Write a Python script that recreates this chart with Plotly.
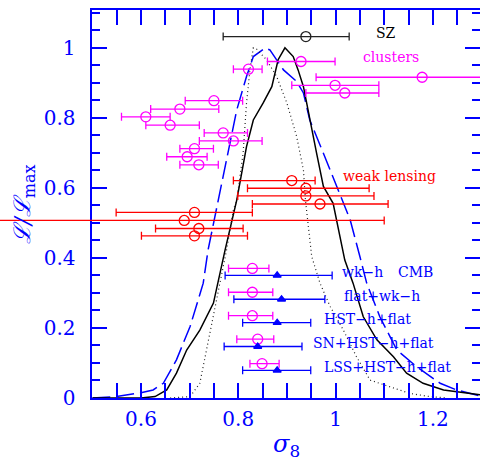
import plotly.graph_objects as go

# ---------------- curves ----------------
dash_x = [0.50, 0.550, 0.600, 0.625, 0.646, 0.673, 0.701, 0.728, 0.738, 0.759, 0.776, 0.797, 0.817,
          0.831, 0.855, 0.865, 0.893, 0.920, 0.934, 0.947, 0.975, 1.002, 1.030, 1.050, 1.064,
          1.091, 1.126, 1.167, 1.215, 1.249, 1.297]
dash_y = [0.0, 0.004, 0.015, 0.023, 0.042, 0.109, 0.204, 0.328, 0.423, 0.566, 0.680, 0.823, 0.918,
          0.975, 0.999, 0.994, 0.937, 0.904, 0.871, 0.794, 0.699, 0.604, 0.509, 0.404, 0.328,
          0.232, 0.137, 0.089, 0.042, 0.023, 0.006]

solid_x = [0.50, 0.600, 0.629, 0.653, 0.673, 0.694, 0.721, 0.749, 0.773, 0.790, 0.797, 0.817, 0.831,
           0.851, 0.869, 0.882, 0.896, 0.913, 0.923, 0.934, 0.947, 0.961, 0.975, 0.995, 1.019,
           1.036, 1.057, 1.085, 1.119, 1.146, 1.180, 1.222, 1.297]
solid_y = [0.0, 0.0, 0.004, 0.023, 0.071, 0.137, 0.194, 0.271, 0.423, 0.528, 0.566, 0.718, 0.794,
           0.842, 0.889, 0.966, 1.0, 0.975, 0.937, 0.889, 0.794, 0.699, 0.604, 0.556, 0.394,
           0.328, 0.232, 0.166, 0.118, 0.071, 0.042, 0.023, 0.009]

dot_x = [0.660, 0.701, 0.721, 0.735, 0.749, 0.762, 0.776, 0.790, 0.797, 0.810, 0.817, 0.824, 0.831,
         0.838, 0.858, 0.879, 0.900, 0.920, 0.934, 0.938, 0.951, 0.968, 0.989, 1.016, 1.043,
         1.071, 1.112, 1.153, 1.194, 1.230]
dot_y = [0.0, 0.004, 0.042, 0.137, 0.232, 0.328, 0.423, 0.537, 0.566, 0.699, 0.842, 0.937, 1.0,
         0.996, 0.966, 0.918, 0.842, 0.747, 0.651, 0.566, 0.404, 0.328, 0.261, 0.194, 0.118,
         0.051, 0.032, 0.013, 0.004, 0.0]

# ---------------- SZ ----------------
sz_x = [0.939]; sz_y = [1.032]; sz_lo = [0.769]; sz_hi = [1.028]

# ---------------- clusters ----------------
cl_x  = [0.929, 0.821, 1.178, 0.999, 1.019, 0.750, 0.680, 0.610, 0.660, 0.769, 0.790, 0.710, 0.695, 0.719]
cl_y  = [0.961, 0.939, 0.916, 0.893, 0.871, 0.849, 0.825, 0.803, 0.779, 0.757, 0.734, 0.712, 0.689, 0.666]
cl_lo = [0.860, 0.790, 0.960, 0.910, 0.939, 0.691, 0.620, 0.560, 0.610, 0.730, 0.720, 0.680, 0.653, 0.680]
cl_hi = [0.999, 0.849, 1.400, 1.089, 1.089, 0.809, 0.760, 0.660, 0.720, 0.819, 0.849, 0.749, 0.736, 0.759]

# ---------------- weak lensing ----------------
wl_x  = [0.910, 0.939, 0.939, 0.968, 0.710, 0.689, 0.719, 0.710]
wl_y  = [0.621, 0.599, 0.577, 0.554, 0.530, 0.507, 0.484, 0.463]
wl_lo = [0.790, 0.819, 0.799, 0.829, 0.549, 0.250, 0.630, 0.601]
wl_hi = [0.958, 1.069, 1.079, 1.108, 0.829, 1.100, 0.810, 0.819]

# ---------------- CMB ----------------
cmbc_x  = [0.829, 0.829, 0.829, 0.840, 0.849]
cmbc_y  = [0.370, 0.302, 0.235, 0.168, 0.098]
cmbc_lo = [0.780, 0.780, 0.780, 0.797, 0.824]
cmbc_hi = [0.863, 0.871, 0.871, 0.873, 0.884]

cmbt_x  = [0.880, 0.889, 0.880, 0.840, 0.880]
cmbt_y  = [0.350, 0.282, 0.215, 0.147, 0.079]
cmbt_lo = [0.773, 0.791, 0.809, 0.771, 0.809]
cmbt_hi = [0.993, 0.978, 0.949, 0.931, 0.949]

# ---------------- labels ----------------
lab_text = ["SZ", "clusters", "weak lensing", "wk\u2212h", "CMB", "flat+wk\u2212h",
            "HST\u2212h+flat", "SN+HST\u2212h+flat", "LSS+HST\u2212h+flat"]
lab_x = [1.078, 1.052, 1.011, 1.009, 1.124, 1.013, 0.9715, 0.949, 0.9715]
lab_y = [1.042, 0.973, 0.634, 0.360, 0.360, 0.292, 0.226, 0.156, 0.089]
lab_c = ["black", "magenta", "red", "blue", "blue", "blue", "blue", "blue", "blue"]

BLUE = "#0000ff"
MAG = "#ff00ff"
SERIF = "DejaVu Serif"

fig = go.Figure()

fig.add_trace(go.Scatter(x=dash_x, y=dash_y, mode="lines",
                         line=dict(color=BLUE, width=1.5, dash="18px,6px")))
fig.add_trace(go.Scatter(x=solid_x, y=solid_y, mode="lines",
                         line=dict(color="black", width=1.5)))
fig.add_trace(go.Scatter(x=dot_x, y=dot_y, mode="lines",
                         line=dict(color="#222222", width=1.2, dash="1px,3px")))


def errbar(xs, ys, lo, hi, color, symbol, size, filled, xaxis="x", yaxis="y", lw=1.3):
    plus = [h - x for x, h in zip(xs, hi)]
    minus = [x - l for x, l in zip(xs, lo)]
    fig.add_trace(go.Scatter(
        x=xs, y=ys, mode="markers", xaxis=xaxis, yaxis=yaxis,
        marker=dict(symbol=symbol, size=size,
                    color=color if filled else "rgba(255,255,255,0)",
                    line=dict(color=color, width=1.3)),
        error_x=dict(type="data", symmetric=False, array=plus, arrayminus=minus,
                     color=color, thickness=lw, width=4),
        cliponaxis=False,
    ))


errbar(sz_x, sz_y, sz_lo, sz_hi, "#222222", "circle", 10, False)
errbar(cl_x, cl_y, cl_lo, cl_hi, MAG, "circle", 10, False)
# weak lensing: the long bar extends left beyond the frame -> draw on a wide overlay axis
errbar(wl_x, wl_y, wl_lo, wl_hi, "red", "circle", 10, False, xaxis="x2", yaxis="y2")
errbar(cmbc_x, cmbc_y, cmbc_lo, cmbc_hi, MAG, "circle", 10, False)
errbar(cmbt_x, cmbt_y, cmbt_lo, cmbt_hi, BLUE, "triangle-up", 7, True)

for t, x, y, c in zip(lab_text, lab_x, lab_y, lab_c):
    fig.add_annotation(x=x, y=y, text=t, showarrow=False, xanchor="left", yanchor="middle",
                       font=dict(family=SERIF, size=14, color=c))

# axis titles
fig.add_annotation(xref="paper", yref="paper", x=0.05, y=0.50, xanchor="center", yanchor="middle",
                   text="<i>\u2112/\u2112</i><sub>max</sub>", textangle=-90, showarrow=False,
                   font=dict(family=SERIF, size=23, color=BLUE))
fig.add_annotation(xref="paper", yref="paper", x=0.597, y=-0.123, xanchor="center", yanchor="middle",
                   text="<i>\u03c3</i><sub>8</sub>", showarrow=False,
                   font=dict(family=SERIF, size=24, color=BLUE))

PX_PER_UNIT = 486.5
X0_PX = 92.3
W = 480
x_main_max = 0.5 + (W - X0_PX) / PX_PER_UNIT
x2_min = 0.5 - X0_PX / PX_PER_UNIT

yticks = [0, 0.2, 0.4, 0.6, 0.8, 1.0]
ytext = ["0", "0.2", "0.4", "0.6", "0.8", "1"]
minor_y = dict(dtick=0.05, tick0=0, ticks="inside", ticklen=8, tickwidth=1.5,
               tickcolor=BLUE, showgrid=False)

fig.update_layout(
    width=480, height=463,
    margin=dict(l=0, r=0, t=10, b=65),
    paper_bgcolor="white", plot_bgcolor="rgba(0,0,0,0)",
    showlegend=False,
    xaxis=dict(domain=[X0_PX / W, 1], range=[0.5, x_main_max], showgrid=False, zeroline=False,
               showline=True, linecolor=BLUE, linewidth=2, mirror="allticks",
               ticks="inside", ticklen=15, tickwidth=1.5, tickcolor=BLUE,
               tickvals=[0.6, 0.8, 1.0, 1.2], ticktext=["0.6", "0.8", "1", "1.2"],
               minor=dict(dtick=0.05, tick0=0.5, ticks="inside", ticklen=8, tickwidth=1.5,
                          tickcolor=BLUE, showgrid=False),
               tickfont=dict(family=SERIF, size=20, color=BLUE), ticklabelstandoff=2,
               anchor="y"),
    yaxis=dict(domain=[0, 1], range=[0, 1.108], showgrid=False, zeroline=False,
               showline=True, linecolor=BLUE, linewidth=1.5, mirror=False,
               ticks="inside", ticklen=15, tickwidth=1.5, tickcolor=BLUE,
               tickvals=yticks, ticktext=ytext, minor=minor_y,
               tickfont=dict(family=SERIF, size=20, color=BLUE), ticklabelstandoff=11,
               anchor="x"),
    yaxis3=dict(overlaying="y", side="right", anchor="x", range=[0, 1.108], showgrid=False,
                zeroline=False, showline=False, ticks="inside", ticklen=15, tickwidth=1.5,
                tickcolor=BLUE, tickvals=yticks, showticklabels=False, minor=minor_y),
    xaxis2=dict(domain=[0, 1], range=[x2_min, x_main_max], visible=False, anchor="y2"),
    yaxis2=dict(domain=[0, 1], range=[0, 1.108], visible=False, anchor="x2"),
)

# invisible trace to activate the right-hand tick axis
fig.add_trace(go.Scatter(x=[0.5], y=[0], yaxis="y3", mode="markers",
                         marker=dict(size=1, color="rgba(0,0,0,0)"), hoverinfo="skip"))

fig.write_html("out.html", config={"displayModeBar": False},
               post_script="document.body.style.margin='0px';document.body.style.overflow='hidden';")
